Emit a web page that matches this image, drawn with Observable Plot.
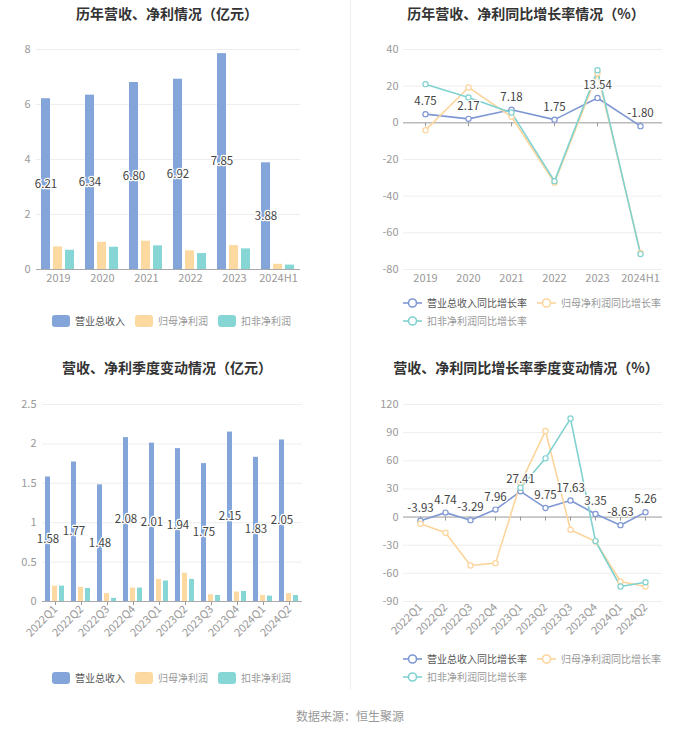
<!DOCTYPE html>
<html>
<head>
<meta charset="utf-8">
<script src="https://cdn.jsdelivr.net/npm/d3@7"></script>
<script src="https://cdn.jsdelivr.net/npm/@observablehq/plot@0.6"></script>
<style>
  html, body { margin: 0; padding: 0; background: #fff; }
  body { width: 700px; height: 733px; position: relative; overflow: hidden;
         font-family: "Noto Sans CJK SC", "Noto Sans", sans-serif; }
  .title { position: absolute; width: 350px; text-align: center; font-size: 14px; font-weight: bold;
           color: #333; line-height: 16px; white-space: nowrap; }
  .chart { position: absolute; }
  .legend { position: absolute; display: flex; flex-wrap: wrap; row-gap: 6px; font-size: 10px; line-height: 12px; }
  .item { display: flex; align-items: center; margin-right: 10px; white-space: nowrap; }
  .swatch { width: 18px; height: 12px; border-radius: 3px; margin-right: 5px; }
  .item svg { margin-right: 5px; }
  .divider { position: absolute; left: 350px; top: 0; width: 1px; height: 690px; background: #f0f0f0; }
  .footer { position: absolute; top: 707px; width: 700px; text-align: center; font-size: 12px; color: #999; }
</style>
</head>
<body>
<div class="divider"></div>
<script>
// ---------- data ----------
const years = ["2019", "2020", "2021", "2022", "2023", "2024H1"];
const annualRevenue = [6.21, 6.34, 6.80, 6.92, 7.85, 3.88];
const annualNetProfit = [0.82, 0.99, 1.03, 0.68, 0.87, 0.19];
const annualDeductedProfit = [0.70, 0.81, 0.86, 0.58, 0.75, 0.16];

const annualRevenueGrowth = [4.75, 2.17, 7.18, 1.75, 13.54, -1.80];
const annualNetProfitGrowth = [-4.0, 19.3, 3.3, -32.7, 27.0, -71.0];
const annualDeductedGrowth = [21.1, 13.8, 5.6, -31.8, 28.7, -71.6];

const quarters = ["2022Q1", "2022Q2", "2022Q3", "2022Q4", "2023Q1", "2023Q2", "2023Q3", "2023Q4", "2024Q1", "2024Q2"];
const quarterRevenue = [1.58, 1.77, 1.48, 2.08, 2.01, 1.94, 1.75, 2.15, 1.83, 2.05];
const quarterNetProfit = [0.195, 0.18, 0.10, 0.17, 0.28, 0.36, 0.085, 0.12, 0.076, 0.10];
const quarterDeductedProfit = [0.195, 0.165, 0.04, 0.17, 0.26, 0.28, 0.076, 0.127, 0.068, 0.076];

const quarterRevenueGrowth = [-3.93, 4.74, -3.29, 7.96, 27.41, 9.75, 17.63, 3.35, -8.63, 5.26];
const quarterNetProfitGrowth = [-7.1, -16.7, -51.6, -49.1, 36.0, 91.8, -13.5, -26.0, -68.7, -74.0];
const quarterDeductedGrowth = [null, null, null, null, 31.3, 62.6, 105.0, -25.6, -74.0, -69.4];

const barSeries = ["营业总收入", "归母净利润", "扣非净利润"];
const lineSeries = ["营业总收入同比增长率", "归母净利润同比增长率", "扣非净利润同比增长率"];

const titles = ["历年营收、净利情况（亿元）", "历年营收、净利同比增长率情况（%）",
                "营收、净利季度变动情况（亿元）", "营收、净利同比增长率季度变动情况（%）"];
const yTicksAnnualBar = [0, 2, 4, 6, 8];
const yTicksAnnualLine = [40, 20, 0, -20, -40, -60, -80];
const yTicksQuarterBar = [0, 0.5, 1, 1.5, 2, 2.5];
const yTicksQuarterLine = [120, 90, 60, 30, 0, -30, -60, -90];
const sourceText = "数据来源：恒生聚源";

// ---------- styles ----------
const barColors = ["#84a5da", "#fdd9a2", "#86d6d6"];
const lineColors = ["#7f98d4", "#fcd59c", "#7fd2d0"];
const FONT = '"Noto Sans CJK SC", "Noto Sans", sans-serif';

function toRows(cats, names, arrays) {
  return cats.flatMap((c, i) => names.map((n, j) => ({cat: c, series: n, value: arrays[j][i]})))
             .filter(d => d.value != null);
}

function place(el, left, top) {
  el.style.left = left + "px"; el.style.top = top + "px";
  document.body.appendChild(el);
}
function addTitle(text, cx, cy) {
  const d = document.createElement("div");
  d.className = "title"; d.textContent = text;
  place(d, cx - 175, cy - 8);
}
function addChart(svg, left, top) {
  const d = document.createElement("div");
  d.className = "chart"; d.appendChild(svg);
  place(d, left, top);
}
function addLegend(names, colors, kind, left, top, width) {
  const d = document.createElement("div");
  d.className = "legend"; d.style.width = width + "px";
  names.forEach((n, i) => {
    const it = document.createElement("div");
    it.className = "item";
    if (kind === "bar") {
      const s = document.createElement("div");
      s.className = "swatch"; s.style.background = colors[i];
      it.appendChild(s);
    } else {
      const ns = "http://www.w3.org/2000/svg";
      const s = document.createElementNS(ns, "svg");
      s.setAttribute("width", 19); s.setAttribute("height", 12);
      const l = document.createElementNS(ns, "line");
      l.setAttribute("x1", 0); l.setAttribute("x2", 19); l.setAttribute("y1", 6); l.setAttribute("y2", 6);
      l.setAttribute("stroke", colors[i]); l.setAttribute("stroke-width", 1.6);
      const c = document.createElementNS(ns, "circle");
      c.setAttribute("cx", 9.5); c.setAttribute("cy", 6); c.setAttribute("r", 4);
      c.setAttribute("fill", "#fff"); c.setAttribute("stroke", colors[i]); c.setAttribute("stroke-width", 1.6);
      s.appendChild(l); s.appendChild(c);
      it.appendChild(s);
    }
    const t = document.createElement("span");
    t.textContent = n; t.style.color = i === 0 ? "#555" : "#999";
    it.appendChild(t);
    d.appendChild(it);
  });
  place(d, left, top);
}

function barChart(cats, arrays, yDomain, yTicks, opts) {
  const rows = toRows(cats, barSeries, arrays);
  return Plot.plot({
    width: 350, height: opts.height,
    marginTop: 19, marginBottom: opts.marginBottom, marginLeft: opts.marginLeft, marginRight: 48,
    style: {fontFamily: FONT, fontSize: "11px", color: "#999", background: "transparent"},
    facet: {data: rows, x: "cat"},
    fx: {domain: cats, padding: 0, label: null, axis: "bottom", tickSize: opts.tickSize,
         tickPadding: opts.tickPadding, tickRotate: opts.rotate},
    x: {domain: barSeries, paddingInner: 0.2308, paddingOuter: 0.346, axis: null},
    y: {domain: yDomain, ticks: yTicks, tickSize: 0, tickPadding: 6, label: null, tickFormat: d => String(d)},
    color: {domain: barSeries, range: barColors},
    marks: [
      Plot.ruleY(yTicks.filter(t => t !== 0), {stroke: "#eeeeee"}),
      Plot.barY(rows, {x: "series", y: "value", fill: "series"}),
      Plot.ruleY([0], {stroke: "#aaaaaa"}),
      Plot.text(rows, {filter: d => d.series === barSeries[0], x: "series", y: d => d.value / 2,
        text: d => d.value.toFixed(2), fill: "#444", stroke: "white", strokeWidth: 2.5, fontSize: 11.5})
    ]
  });
}

function lineChart(cats, arrays, yDomain, yTicks, opts) {
  const rows = toRows(cats, lineSeries, arrays);
  return Plot.plot({
    width: 350, height: opts.height,
    marginTop: 19, marginBottom: opts.marginBottom, marginLeft: 53, marginRight: 38,
    style: {fontFamily: FONT, fontSize: "11px", color: "#999", background: "transparent"},
    x: {type: "point", domain: cats, padding: 0.5, label: null, tickSize: 0,
        tickPadding: opts.tickPadding, tickRotate: opts.rotate},
    y: {domain: yDomain, ticks: yTicks, tickSize: 0, tickPadding: 5, label: null, tickFormat: d => String(d)},
    color: {domain: lineSeries, range: lineColors},
    marks: [
      Plot.ruleY(yTicks.filter(t => t !== 0), {stroke: "#eeeeee"}),
      Plot.ruleY([0], {stroke: "#999999"}),
      Plot.ruleX(cats, {x: d => d, y1: 0, y2: 0, insetBottom: -4, stroke: "#999999"}),
      Plot.line(rows, {x: "cat", y: "value", z: "series", stroke: "series", strokeWidth: 1.6}),
      Plot.dot(rows, {x: "cat", y: "value", stroke: "series", fill: "white", r: 2.6, strokeWidth: 1.2}),
      Plot.text(rows, {filter: d => d.series === lineSeries[0], x: "cat", y: "value", dy: -12.5,
        text: d => d.value.toFixed(2), fill: "#444", stroke: "white", strokeWidth: 2.5, fontSize: 11.5})
    ]
  });
}

// ---------- panels ----------
addTitle(titles[0], 167, 13);
addChart(barChart(years, [annualRevenue, annualNetProfit, annualDeductedProfit], [0, 8], yTicksAnnualBar,
  {height: 265, marginBottom: 26, marginLeft: 33, tickSize: 0, tickPadding: 5, rotate: 0}), 0, 30);
addLegend(barSeries, barColors, "bar", 52, 315, 300);

addTitle(titles[1], 526, 13);
addChart(lineChart(years, [annualRevenueGrowth, annualNetProfitGrowth, annualDeductedGrowth], [-80, 40], yTicksAnnualLine,
  {height: 265, marginBottom: 26, tickPadding: 5, rotate: 0}), 350, 30);
addLegend(lineSeries, lineColors, "line", 403, 297, 270);

addTitle(titles[2], 167, 367);
addChart(barChart(quarters, [quarterRevenue, quarterNetProfit, quarterDeductedProfit], [0, 2.5], yTicksQuarterBar,
  {height: 261, marginBottom: 45, marginLeft: 42, tickSize: 4, tickPadding: 2, rotate: -45}), 0, 385);
addLegend(barSeries, barColors, "bar", 52, 672, 300);

addTitle(titles[3], 526, 367);
addChart(lineChart(quarters, [quarterRevenueGrowth, quarterNetProfitGrowth, quarterDeductedGrowth], [-90, 120], yTicksQuarterLine,
  {height: 261, marginBottom: 45, tickPadding: 4, rotate: -45}), 350, 385);
addLegend(lineSeries, lineColors, "line", 403, 653, 270);

const f = document.createElement("div");
f.className = "footer"; f.textContent = sourceText;
place(f, 0, 707);
</script>
</body>
</html>
